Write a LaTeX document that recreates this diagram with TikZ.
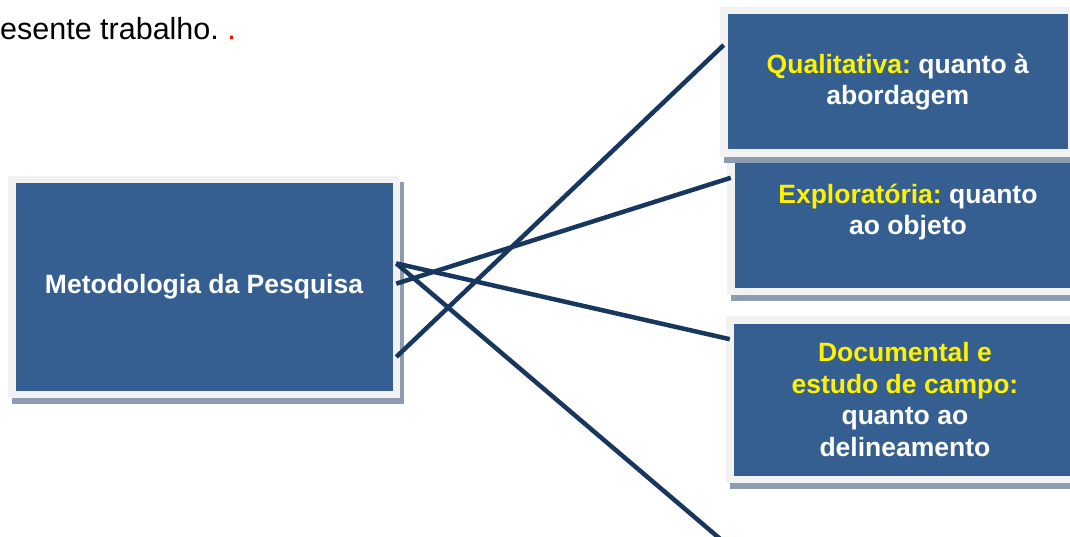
\documentclass[tikz,border=0pt]{standalone}
\usepackage{fontspec}
\setmainfont{Liberation Sans}
\usepackage{tikz}
\usetikzlibrary{shadows}
\definecolor{boxblue}{HTML}{365F91}
\definecolor{framegray}{HTML}{F2F2F2}
\definecolor{shadowgray}{HTML}{8E9CB2}
\definecolor{linknavy}{HTML}{17375E}
\newcommand{\hl}[1]{\textcolor{yellow}{#1}}
\newcommand{\boxfont}{\fontsize{26.5}{31.8}\selectfont\bfseries}
\frenchspacing

\begin{document}
\begin{tikzpicture}[x=1pt,y=-1pt,
	methodbox/.style={rectangle,fill=boxblue,draw=framegray,line width=7.5pt,inner sep=0pt,outer sep=0pt,
		text=white,align=center,font=\boxfont,
		drop shadow={shadow xshift=3.5pt,shadow yshift=-6pt,opacity=1,fill=shadowgray,draw=shadowgray,line width=7.5pt}},
	link/.style={draw=linknavy,line width=4.5pt}]
	\useasboundingbox (0,0) rectangle (1070,537);
	\clip (0,0) rectangle (1070,537);
	\node[anchor=base west,inner sep=0pt,font=\fontsize{30.5}{36}\selectfont] (intro) at (0,40) {esente trabalho. \textcolor{red}{.}};
	\node[methodbox,minimum width=354.25pt,minimum height=132pt] (expl) at (907.9,225.25) {\hl{Explorat\'oria:} quanto\\ ao objeto\\ \mbox{}};
	\node[methodbox,minimum width=348pt,minimum height=142.5pt] (qual) at (897.75,82) {\hl{Qualitativa:} quanto \`a\\ abordagem};
	\node[methodbox,minimum width=350.25pt,minimum height=159.5pt] (docu) at (904.9,399.5) {\hl{Documental e}\\ \hl{estudo de campo:}\\ quanto ao\\ delineamento};
	\node[methodbox,minimum width=384.5pt,minimum height=214.5pt] (main) at (204,287) {Metodologia da Pesquisa};
	\coordinate (next) at (745,560);
	\path[link]
	(main.-20) edge (qual.168.6)
	(main.1.5) edge (expl.165.4)
	(main.7) edge (docu.161.5)
	(main.7) edge (next);
\end{tikzpicture}
\end{document}
